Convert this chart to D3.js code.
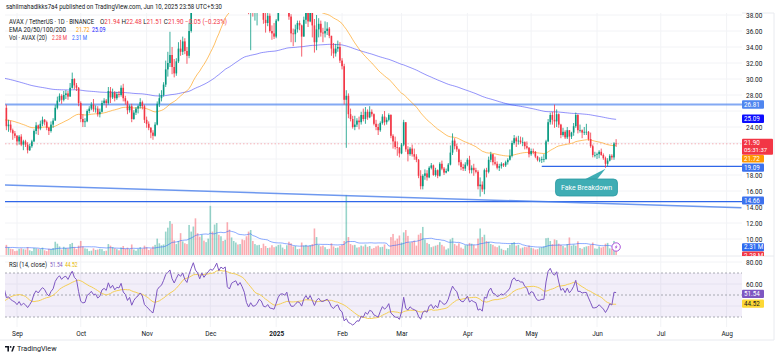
<!DOCTYPE html>
<html><head><meta charset="utf-8">
<script src="https://cdn.jsdelivr.net/npm/d3@7/dist/d3.min.js"></script>
<style>
html,body{margin:0;padding:0;background:#fff;}
svg{display:block;font-family:Roboto,"Liberation Sans",sans-serif;}
</style></head><body>
<svg id="c" width="780" height="358"></svg>
<script>
// ---------------- DATA (daily AVAX/USDT) ----------------
const startDate = "2024-07-30";
const firstOpen = 27.0;
const closes = [
 26.3,25.6,24.3,22.3,21.3,19.9,19.2,20.6,19.5,21.9,21.0,20.9,19.8,
 20.6,20.7,20.0,19.6,20.3,20.8,21.1,21.7,22.7,24.0,24.7,27.2,28.4,27.4,
 26.4,24.1,24.3,23.6,23.2,22.9,
 22.2,22.8,21.8,22.2,21.8,21.1,21.6,22.2,23.5,24.2,23.8,24.4,24.9,24.6,23.9,23.5,24.3,24.8,26.4,27.3,27.9,27.4,28.0,28.2,27.8,28.9,30.0,29.2,28.9,27.0,
 25.0,24.6,24.7,26.0,26.3,26.8,26.2,26.3,25.6,25.9,27.0,27.3,27.0,28.5,27.7,28.3,27.6,28.1,28.0,28.9,27.6,27.2,26.1,26.6,25.0,25.8,26.3,26.6,27.1,26.6,24.9,
 24.4,23.9,23.3,22.9,24.3,26.9,27.6,28.0,29.3,31.2,32.0,33.0,31.5,30.7,32.2,33.8,33.4,34.7,33.5,32.9,36.0,39.2,43.3,41.5,40.8,39.2,42.5,41.3,43.1,44.7,
 46.6,46.3,48.4,52.1,50.0,53.0,52.5,54.0,47.0,46.0,49.5,50.4,51.1,49.3,51.0,49.3,47.0,41.6,38.6,40.6,38.3,38.5,39.4,41.3,40.4,37.4,37.0,37.9,36.0,35.7,35.3,
 37.3,39.6,40.8,40.9,40.4,41.5,37.8,35.7,35.6,36.2,37.0,36.7,35.3,37.4,38.5,37.2,38.4,36.7,34.6,36.2,36.9,35.8,35.7,36.0,36.3,35.4,33.8,33.2,33.8,34.0,32.3,
 31.6,27.4,27.9,25.6,25.0,24.0,24.3,24.8,24.6,25.5,25.0,25.9,25.2,25.9,25.6,24.4,24.0,23.6,24.5,25.3,24.6,24.9,25.5,22.9,22.2,21.5,21.4,20.7,
 21.8,24.6,21.2,20.6,21.3,20.6,20.3,19.9,17.9,16.6,17.9,18.2,17.7,18.9,19.2,18.0,18.6,17.9,19.4,18.8,18.3,18.5,19.3,20.8,22.3,21.6,21.2,19.6,19.0,18.8,19.3,
 19.9,18.6,18.9,18.6,18.4,16.6,16.8,16.2,18.6,18.4,19.9,20.6,19.6,19.4,18.9,19.1,19.4,19.2,19.6,19.9,20.4,22.0,22.6,22.2,22.3,22.1,22.1,21.6,21.4,20.6,
 21.0,20.9,20.3,19.9,19.9,20.0,20.0,22.2,24.6,25.5,24.9,24.7,25.6,24.3,23.0,23.4,22.7,23.6,22.8,23.3,24.1,25.5,23.6,23.6,23.3,23.4,23.4,22.5,21.6,20.5,20.5,
 20.6,20.9,20.5,20.1,19.4,19.8,20.4,20.2,21.94,21.90
];
const highs = [
 27.4,26.6,26.0,24.5,22.7,21.6,20.3,21.2,21.3,22.2,22.2,21.2,21.2,
 21.0,21.3,20.9,20.3,20.6,21.1,21.5,22.0,23.3,24.5,25.4,27.6,29.2,28.6,
 27.6,26.8,24.9,24.8,23.8,23.5,
 23.0,23.0,23.1,22.4,22.4,22.1,21.9,22.4,23.7,24.6,24.3,24.8,25.3,25.0,24.8,24.0,24.7,25.1,26.8,27.8,28.2,28.1,28.5,28.6,28.5,29.5,30.8,30.1,29.5,29.0,
 27.2,25.6,25.1,26.2,26.6,27.1,27.5,26.7,26.6,26.3,27.3,27.6,27.5,29.0,29.0,28.8,28.5,28.4,28.5,29.2,29.4,27.9,27.3,26.8,26.9,26.1,26.5,26.8,27.6,27.3,26.8,
 25.3,24.7,24.0,23.6,24.6,27.2,28.2,28.6,29.6,32.3,33.4,35.9,34.0,32.5,32.6,34.6,34.9,35.3,35.1,34.0,37.0,40.0,44.0,43.5,42.5,41.0,43.0,43.3,43.6,45.5,
 47.3,48.0,49.5,53.0,55.0,54.0,54.5,54.5,54.8,48.5,50.0,51.5,51.8,51.6,51.3,52.5,49.6,47.5,42.6,41.0,41.3,39.5,39.9,41.8,41.5,40.4,38.4,38.3,38.2,36.7,37.0,
 37.5,40.4,41.2,41.8,41.3,42.1,41.9,38.1,36.3,36.8,37.3,37.3,36.8,37.8,39.2,38.8,39.5,38.6,37.5,38.0,37.6,37.3,36.4,37.2,37.1,36.5,35.4,34.5,34.4,34.8,34.6,
 32.6,31.9,28.6,28.2,26.3,25.4,25.4,25.1,25.3,25.9,26.3,26.5,26.2,26.6,26.2,25.7,24.9,24.4,24.7,25.6,26.0,25.2,25.7,25.6,23.1,22.8,22.2,21.5,
 22.0,24.9,24.6,21.6,21.5,21.8,21.3,20.6,20.0,18.6,18.1,18.7,18.6,19.1,19.5,19.3,18.9,18.7,19.6,19.8,19.0,18.8,19.5,21.7,23.2,22.6,21.9,21.3,19.9,19.4,19.6,
 20.1,20.4,19.2,19.4,18.9,18.6,17.7,17.2,18.8,18.9,20.3,20.9,20.6,20.3,19.7,19.4,19.6,19.5,19.8,20.1,21.2,22.3,23.0,22.8,22.9,22.8,22.7,22.2,22.2,21.5,
 21.3,21.3,21.0,20.4,20.2,20.3,20.6,22.4,25.0,25.8,25.9,26.8,26.2,25.7,24.4,23.9,23.6,24.0,23.6,23.4,24.5,25.8,25.6,24.3,23.7,24.0,24.4,23.5,23.3,21.8,20.9,
 20.8,21.1,21.3,20.7,20.3,20.1,20.6,20.6,22.1,22.48
];
const lows = [
 25.9,25.3,23.9,21.9,20.9,19.5,17.3,18.8,19.2,19.4,20.6,20.4,19.5,
 19.6,20.1,19.8,19.2,19.4,20.1,20.6,20.8,21.5,22.5,23.7,24.5,27.0,27.0,
 26.0,23.6,23.4,23.3,22.4,22.6,
 21.7,21.8,21.6,21.1,21.5,20.7,21.0,21.4,22.1,23.1,23.0,23.6,24.1,24.2,23.6,23.0,23.3,23.9,24.8,26.2,27.1,26.9,27.2,27.5,27.4,27.8,28.8,28.7,28.5,26.6,
 24.6,24.0,24.0,24.6,25.7,26.1,25.9,25.8,25.3,25.2,25.8,26.8,26.4,26.8,27.0,27.5,27.2,27.4,27.7,27.8,27.2,26.8,25.6,25.8,24.6,24.9,25.5,25.7,26.3,26.2,24.5,
 23.9,23.6,22.6,22.4,22.8,24.2,26.5,27.2,27.8,29.0,30.3,31.5,30.6,30.2,30.4,32.0,32.9,33.0,33.1,31.9,32.6,35.8,38.9,39.7,39.0,38.3,38.8,40.6,41.2,42.8,
 44.0,43.6,43.5,47.6,48.0,48.7,51.2,51.0,43.5,42.5,45.0,48.5,49.1,48.6,48.8,48.2,46.4,41.0,38.1,33.6,37.8,37.3,36.7,38.9,39.8,36.9,35.8,36.6,35.8,34.9,35.0,
 35.1,37.2,38.6,40.2,39.3,39.9,37.4,34.6,34.1,34.6,35.8,36.1,32.8,35.3,36.9,36.5,37.1,35.2,33.3,33.6,35.2,35.3,34.6,35.2,35.5,35.1,32.9,32.6,32.8,33.4,32.0,
 31.2,26.8,21.4,25.1,24.7,23.8,23.6,24.0,23.7,24.3,24.7,24.4,24.9,25.1,25.3,24.2,23.6,23.0,23.4,24.3,24.2,24.3,24.7,22.6,21.3,21.2,20.4,20.2,
 20.6,21.6,20.9,19.7,20.4,20.3,19.9,19.6,17.6,16.2,16.2,17.4,17.3,17.6,18.7,17.9,17.8,17.6,17.8,18.6,18.0,18.2,18.4,19.2,20.5,21.2,20.9,19.2,18.6,18.5,18.5,
 19.1,18.2,18.2,17.9,18.2,16.2,15.3,15.9,15.6,17.7,18.2,19.6,19.2,19.2,18.7,18.5,18.8,19.0,19.0,19.3,19.8,20.2,21.8,21.5,21.8,21.9,21.6,21.2,21.2,20.2,
 20.4,20.6,20.1,19.7,19.6,19.5,19.6,19.9,22.1,24.3,24.3,23.9,24.0,23.9,22.6,22.8,22.5,22.5,22.0,22.5,22.9,23.9,23.2,23.3,22.6,23.0,23.0,22.3,21.4,20.2,20.2,
 20.0,20.1,20.4,19.9,18.9,19.1,19.7,19.9,19.9,21.51
];
// volume in millions of AVAX
const volumes = [
 1.5,1.6,2.0,2.8,2.2,2.5,5.0,3.2,2.4,2.6,1.8,1.2,1.6,
 2.0,1.8,1.6,1.7,1.5,1.2,1.3,1.6,2.2,2.5,2.0,3.5,2.6,1.8,
 2.2,2.6,2.0,1.6,1.5,1.0,
 1.1,1.6,1.7,1.5,1.4,2.0,1.2,1.0,1.8,1.7,1.6,1.5,1.9,1.2,1.0,1.6,1.5,1.8,3.4,2.9,2.2,1.4,2.1,1.8,1.7,2.8,3.1,2.0,1.5,2.4,
 3.6,2.2,1.7,1.6,1.0,1.1,1.7,1.3,1.4,1.6,1.5,1.0,1.1,2.8,2.4,2.0,1.7,1.5,1.2,1.9,2.3,1.6,1.9,1.5,2.7,1.4,1.1,1.6,2.0,1.6,2.4,
 2.0,1.3,1.6,2.2,2.6,4.2,3.0,2.5,2.7,6.0,7.0,8.7,8.0,3.8,2.8,3.6,5.6,3.5,3.0,2.8,7.7,6.0,7.3,9.4,5.6,4.7,5.2,3.7,3.3,4.2,
 12.6,6.0,7.8,8.2,5.2,4.8,3.6,3.9,8.4,6.5,4.5,3.6,3.2,2.7,2.8,4.0,3.8,4.8,6.0,6.4,3.6,2.8,2.5,2.6,1.8,2.9,2.3,1.8,1.9,2.5,2.0,
 2.2,2.6,2.7,1.9,1.5,2.5,3.4,3.0,2.2,2.3,1.5,1.6,3.2,2.4,2.6,2.3,2.5,2.8,6.8,4.6,2.6,2.2,2.4,2.0,1.5,1.6,3.0,2.2,1.8,1.9,2.3,
 2.6,3.6,15.4,4.6,2.8,2.5,2.6,1.9,2.0,2.4,2.2,2.7,2.1,2.3,1.6,1.8,2.2,2.4,2.0,2.1,2.7,1.6,1.5,4.6,5.4,3.7,4.2,5.0,
 3.2,5.8,6.4,4.9,3.2,3.4,3.7,2.4,5.2,5.6,7.2,4.0,3.1,2.8,2.0,2.2,2.4,2.6,3.3,2.6,2.2,1.4,1.7,4.0,4.4,2.8,2.4,3.0,1.9,1.6,2.5,
 2.6,3.1,2.9,2.6,1.7,4.2,6.8,4.6,5.2,3.6,3.4,2.8,2.6,2.2,2.0,2.4,1.6,1.3,1.2,1.8,2.6,3.1,3.3,2.4,2.6,1.7,1.9,2.1,2.0,2.4,
 1.9,1.7,1.4,1.5,1.9,2.0,2.2,4.3,4.4,3.6,2.8,4.0,3.8,2.9,2.6,2.3,1.9,2.8,4.5,2.4,2.7,2.4,3.5,1.8,1.6,2.0,2.2,2.3,2.6,3.2,1.7,
 1.6,2.2,1.9,2.1,2.9,3.1,1.7,1.6,3.6,2.28
];
// EMA starting values read at the left edge of the chart
const emaSeedDate = "2024-08-26";
const ema50Seed = 24.9;
const ema200Seed = 30.1;

const priceTicks = [10,12,14,16,18,24,28,30,32,34,36,38];   // 20, 22, 26 sit under the value tags
const gridTicks = [10,12,14,16,18,20,22,24,26,28,30,32,34,36,38];
const rsiTicks = [80,60];
const rsiGrid = [80,60,40];
const rsiBands = [70,50,30];
const monthTicks = ["2024-09-01","2024-10-01","2024-11-01","2024-12-01","2025-01-01","2025-02-01","2025-03-01","2025-04-01","2025-05-01","2025-06-01","2025-07-01","2025-08-01"];
const monthLabels = ["Sep","Oct","Nov","Dec","2025","Feb","Mar","Apr","May","Jun","Jul","Aug"];

const resistanceLevel = 26.81;
const supportLevel = 19.09, supportStart = "2025-05-06";
const baseLevel = 14.66;
const trendline = [["2024-08-26",16.75],["2025-08-08",13.9]];
const lastPrice = 21.90, lastEma50 = 21.72, lastEma200 = 25.09;
const lastVol = "2.28 M", lastVolMA = "2.31 M", lastRsi = 51.54, lastRsiMA = 44.52;
const breakdownDate = "2025-06-05", breakdownPrice = 18.9;

// ---------------- BUILD ----------------
const parse = s => { const [Y,M,D] = s.split("-").map(Number); return new Date(Date.UTC(Y,M-1,D)); };
const t0 = parse(startDate);
const n = closes.length;
const bars = closes.map((c,i)=>({
  date: new Date(t0.getTime()+i*864e5),
  o: i===0 ? firstOpen : closes[i-1], h: highs[i], l: lows[i], c, v: volumes[i]
}));

const seedIdx = bars.findIndex(b=>b.date.getTime()===parse(emaSeedDate).getTime());
function ema(seed, len){
  const a = 2/(len+1), out = new Array(n).fill(null);
  out[seedIdx] = seed;
  for(let i=seedIdx+1;i<n;i++) out[i] = a*closes[i] + (1-a)*out[i-1];
  return out;
}
const ema50 = ema(ema50Seed,50), ema200 = ema(ema200Seed,200);
const rsi = new Array(n).fill(null);
let ag=0, al=0;
for(let i=1;i<=14;i++){const ch=closes[i]-closes[i-1]; ag+=Math.max(ch,0); al+=Math.max(-ch,0);}
ag/=14; al/=14; rsi[14]=100-100/(1+ag/al);
for(let i=15;i<n;i++){const ch=closes[i]-closes[i-1]; ag=(ag*13+Math.max(ch,0))/14; al=(al*13+Math.max(-ch,0))/14; rsi[i]= al===0?100:100-100/(1+ag/al);}
const rsiMA = rsi.map((v,i)=> i>=27 ? d3.mean(rsi.slice(i-13,i+1)) : null);
const volMA = volumes.map((v,i)=> i>=19 ? d3.mean(volumes.slice(i-19,i+1)) : null);

// ---------------- LAYOUT ----------------
const svg = d3.select("#c");
const L=5, R=742, mainTop=13, mainBot=256, rsiTop=256, rsiBot=327;
const x = d3.scaleUtc().domain([parse("2024-09-01"), parse("2025-06-01")]).range([17,597]);
const y = d3.scaleLinear().domain([10,38]).range([239,15]);
const yv = d3.scaleLinear().domain([0,16]).range([255,192.6]);
const yr = d3.scaleLinear().domain([20,80]).range([328,262]);
const UP="#089981", DN="#f23645";

const defs = svg.append("defs");
defs.append("clipPath").attr("id","cm").append("rect").attr("x",L).attr("y",mainTop).attr("width",R-L).attr("height",mainBot-mainTop);
defs.append("clipPath").attr("id","cr").append("rect").attr("x",L).attr("y",rsiTop).attr("width",R-L).attr("height",rsiBot-rsiTop);
defs.append("clipPath").attr("id","cv").append("rect").attr("x",740).attr("y",0).attr("width",40).attr("height",mainBot);

const grid = svg.append("g");
grid.selectAll(".hg").data(gridTicks).join("line").attr("x1",L).attr("x2",R)
  .attr("y1",d=>y(d)).attr("y2",d=>y(d)).attr("stroke","#f2f3f6");
grid.selectAll(".rg").data(rsiGrid).join("line").attr("x1",L).attr("x2",R)
  .attr("y1",d=>yr(d)).attr("y2",d=>yr(d)).attr("stroke","#f2f3f6");
grid.selectAll(".vg").data(monthTicks).join("line").attr("x1",d=>x(parse(d))).attr("x2",d=>x(parse(d)))
  .attr("y1",mainTop).attr("y2",rsiBot).attr("stroke","#f2f3f6");

svg.append("line").attr("x1",0).attr("x2",774).attr("y1",mainBot).attr("y2",mainBot).attr("stroke","#e8eaef");
svg.append("line").attr("x1",0).attr("x2",774).attr("y1",340).attr("y2",340).attr("stroke","#e8eaef");
svg.append("line").attr("x1",774).attr("x2",774).attr("y1",mainTop).attr("y2",340).attr("stroke","#e8eaef");
svg.append("line").attr("x1",742).attr("x2",774).attr("y1",mainTop).attr("y2",mainTop).attr("stroke","#e8eaef");

// ---------------- MAIN PANE ----------------
const gm = svg.append("g").attr("clip-path","url(#cm)");
gm.append("g").selectAll("rect").data(bars).join("rect")
  .attr("x",d=>x(d.date)-0.8).attr("width",1.6)
  .attr("y",d=>yv(d.v)).attr("height",d=>yv(0)-yv(d.v))
  .attr("fill",d=>d.c>=d.o?UP:DN).attr("opacity",0.42);
gm.append("path").datum(bars.map((b,i)=>[b.date,volMA[i]]).filter(d=>d[1]!=null))
  .attr("d",d3.line().x(d=>x(d[0])).y(d=>yv(d[1])))
  .attr("fill","none").attr("stroke","#2962ff").attr("stroke-width",0.9).attr("opacity",0.6);

gm.append("line").attr("x1",L).attr("x2",R).attr("y1",y(lastPrice)).attr("y2",y(lastPrice))
  .attr("stroke",DN).attr("stroke-width",0.8).attr("stroke-dasharray","1.5,2").attr("opacity",0.45);
gm.append("line").attr("x1",L).attr("x2",R).attr("y1",y(resistanceLevel)).attr("y2",y(resistanceLevel))
  .attr("stroke","#5b8def").attr("stroke-width",2).attr("opacity",0.75);
gm.append("line").attr("x1",x(parse(supportStart))).attr("x2",R).attr("y1",y(supportLevel)).attr("y2",y(supportLevel))
  .attr("stroke","#2f66e8").attr("stroke-width",1.2);
gm.append("line").attr("x1",L).attr("x2",R).attr("y1",y(baseLevel)).attr("y2",y(baseLevel))
  .attr("stroke","#2f66e8").attr("stroke-width",1.2);
gm.append("line").attr("x1",x(parse(trendline[0][0]))).attr("y1",y(trendline[0][1]))
  .attr("x2",x(parse(trendline[1][0]))).attr("y2",y(trendline[1][1]))
  .attr("stroke","#4a7fec").attr("stroke-width",1.5).attr("opacity",0.8);

const emaLine = arr => d3.line().x(d=>x(d[0])).y(d=>y(d[1]))(bars.map((b,i)=>[b.date,arr[i]]).filter(d=>d[1]!=null));
gm.append("path").attr("d",emaLine(ema200)).attr("fill","none").attr("stroke","#3a3af5").attr("stroke-width",1).attr("opacity",0.55);
gm.append("path").attr("d",emaLine(ema50)).attr("fill","none").attr("stroke","#ff9800").attr("stroke-width",1).attr("opacity",0.6);

const gc = gm.append("g");
gc.selectAll("line").data(bars).join("line")
  .attr("x1",d=>x(d.date)).attr("x2",d=>x(d.date))
  .attr("y1",d=>y(Math.max(d.h,d.o,d.c))).attr("y2",d=>y(Math.min(d.l,d.o,d.c)))
  .attr("stroke",d=>d.c>=d.o?UP:DN).attr("stroke-width",0.8);
gc.selectAll("rect").data(bars).join("rect")
  .attr("x",d=>x(d.date)-0.8).attr("width",1.6)
  .attr("y",d=>y(Math.max(d.o,d.c))).attr("height",d=>Math.max(0.7,Math.abs(y(d.o)-y(d.c))))
  .attr("fill",d=>d.c>=d.o?UP:DN);

// Fake breakdown callout
const tipX = x(parse(breakdownDate)), tipY = y(breakdownPrice)+1;
const call = svg.append("g");
call.append("path").attr("d",`M${tipX-22},180 L${tipX-9},180 L${tipX},${tipY} Z`).attr("fill","#3fadb4");
call.append("rect").attr("x",tipX-50).attr("y",179).attr("width",62).attr("height",17).attr("rx",4)
  .attr("fill","#3fadb4").attr("stroke","#2c9aa2").attr("stroke-width",0.8);
call.append("text").attr("x",tipX-19).attr("y",190.3).attr("text-anchor","middle")
  .attr("font-size",7).attr("fill","#fff").text("Fake Breakdown");

// lightning marker
const lx = x(bars[n-1].date), ly = 247;
svg.append("circle").attr("cx",lx).attr("cy",ly).attr("r",4.2).attr("fill","#fff").attr("stroke","#a243d6").attr("stroke-width",0.9);
svg.append("path").attr("d",`M${lx+0.8},${ly-2.6} L${lx-1.4},${ly+0.4} L${lx},${ly+0.4} L${lx-0.8},${ly+2.6} L${lx+1.4},${ly-0.4} L${lx},${ly-0.4} Z`).attr("fill","#a243d6");

// ---------------- RSI PANE ----------------
const gr = svg.append("g").attr("clip-path","url(#cr)");
gr.append("rect").attr("x",L).attr("width",R-L).attr("y",yr(70)).attr("height",yr(30)-yr(70)).attr("fill","#7e57c2").attr("opacity",0.1);
gr.selectAll(".band").data(rsiBands).join("line").attr("x1",L).attr("x2",R)
  .attr("y1",d=>yr(d)).attr("y2",d=>yr(d)).attr("stroke","#9598a1").attr("stroke-width",0.8).attr("stroke-dasharray","2,2");
const rl = arr => d3.line().x(d=>x(d[0])).y(d=>yr(d[1]))(bars.map((b,i)=>[b.date,arr[i]]).filter(d=>d[1]!=null));
gr.append("path").attr("d",rl(rsiMA)).attr("fill","none").attr("stroke","#f5cf55").attr("stroke-width",1);
gr.append("path").attr("d",rl(rsi)).attr("fill","none").attr("stroke","#7e57c2").attr("stroke-width",1);
const rh = svg.append("g").attr("font-size",6.4);
rh.append("text").attr("x",9).attr("y",266.5).attr("fill","#131722").attr("textLength",38).attr("lengthAdjust","spacingAndGlyphs").text("RSI (14, close)");
rh.append("text").attr("x",50).attr("y",266.5).attr("fill","#7e57c2").attr("textLength",12.5).attr("lengthAdjust","spacingAndGlyphs").text(lastRsi.toFixed(2));
rh.append("text").attr("x",65).attr("y",266.5).attr("fill","#e6b800").attr("textLength",12.5).attr("lengthAdjust","spacingAndGlyphs").text(lastRsiMA.toFixed(2));

// ---------------- AXES ----------------
const ya = svg.append("g").attr("transform","translate(744,0)")
  .call(d3.axisRight(y).tickValues(priceTicks).tickFormat(d3.format(".2f")).tickSize(0).tickPadding(2));
const yra = svg.append("g").attr("transform","translate(744,0)")
  .call(d3.axisRight(yr).tickValues(rsiTicks).tickFormat(d3.format(".2f")).tickSize(0).tickPadding(2));
const xa = svg.append("g").attr("transform","translate(0,329)")
  .call(d3.axisBottom(x).tickValues(monthTicks.map(parse)).tickFormat((d,i)=>monthLabels[i]).tickSize(0).tickPadding(2));
[ya,yra,xa].forEach(a=>{a.select(".domain").remove(); a.selectAll("text").attr("font-size",6.5).attr("fill","#131722").attr("font-family","Roboto,sans-serif");});
xa.selectAll("text").filter((d,i)=>monthLabels[i]==="2025").attr("font-weight","bold");

// ---------------- RIGHT VALUE TAGS ----------------
function tag(cy, txt, fill, color, h, w){
  const g = svg.append("g");
  g.append("rect").attr("x",742).attr("y",cy-h/2).attr("width",w||22).attr("height",h).attr("fill",fill).attr("rx",1);
  g.append("text").attr("x",744).attr("y",cy+2.2).attr("font-size",6.3).attr("fill",color).text(txt);
  return g;
}
tag(y(resistanceLevel),"26.81","#4f86ef","#fff",8.5);
tag(y(lastEma200)+0.5,"25.09","#0d0dff","#fff",8.5);
const lp = svg.append("g");
lp.append("rect").attr("x",742).attr("y",y(lastPrice)-5).attr("width",31).attr("height",16).attr("fill","#f23645").attr("rx",1);
lp.append("text").attr("x",744).attr("y",y(lastPrice)+1.6).attr("font-size",6.3).attr("fill","#fff").text(lastPrice.toFixed(2));
lp.append("text").attr("x",744).attr("y",y(lastPrice)+8.6).attr("font-size",6).attr("fill","#fff").text("05:31:37");
tag(y(lastPrice)+15.0,"21.72","#ff9800","#fff",7.5);
tag(y(supportLevel)+1.3,"19.09","#3c72ee","#fff",8.3);
tag(y(baseLevel)-1.2,"14.66","#3c72ee","#fff",8);
tag(yv(2.31)+1.2,lastVolMA,"#2f6bef","#fff",8);
tag(yv(2.28)+9.5,lastVol,"#f23645","#fff",8).attr("clip-path","url(#cv)");
tag(yr(lastRsi)+0.5,lastRsi.toFixed(2),"#7e57c2","#fff",8.3);
tag(yr(lastRsi)+10.3,lastRsiMA.toFixed(2),"#fdd835","#131722",8.3);

// ---------------- HEADER ----------------
const hd = svg.append("g").attr("font-size",6.4).attr("fill","#131722");
function ht(xp, yp, w, txt, fill){
  const t = hd.append("text").attr("x",xp).attr("y",yp).attr("textLength",w).attr("lengthAdjust","spacingAndGlyphs");
  if(fill) t.attr("fill",fill);
  t.html(txt); return t;
}
ht(6, 9, 216, "sahilmahadikks7a4 published on TradingView.com, Jun 10, 2025 23:58 UTC+5:30");
ht(9, 24, 85, "AVAX / TetherUS · 1D · BINANCE");
ht(100, 24, 127, `O<tspan fill="${DN}">21.94</tspan> H<tspan fill="${DN}">22.48</tspan> L<tspan fill="${DN}">21.51</tspan> C<tspan fill="${DN}">21.90</tspan> <tspan fill="${DN}">−0.05 (−0.23%)</tspan>`);
ht(9, 31.7, 57, "EMA 20/50/100/200");
ht(76, 31.7, 13.5, lastEma50.toFixed(2), "#ff9800");
ht(92, 31.7, 13.5, lastEma200.toFixed(2), "#1a1aff");
ht(9, 39.7, 38, "Vol · AVAX (20)");
ht(52, 39.7, 15, lastVol, DN);
ht(72, 39.7, 15, lastVolMA, "#2962ff");

// footer logo
const ft = svg.append("g");
ft.append("path").attr("d","M5,346 h4 v5.5 h-1.6 v-3.9 h-2.4 Z").attr("fill","#131722");
ft.append("circle").attr("cx",10.6).attr("cy",346.9).attr("r",0.9).attr("fill","#131722");
ft.append("path").attr("d","M11.2,351.5 L13.2,346 L14.8,346 L12.8,351.5 Z").attr("fill","#131722");
ft.append("text").attr("x",17).attr("y",351.3).attr("font-size",7.2).attr("fill","#131722").text("TradingView");
</script>
</body></html>
